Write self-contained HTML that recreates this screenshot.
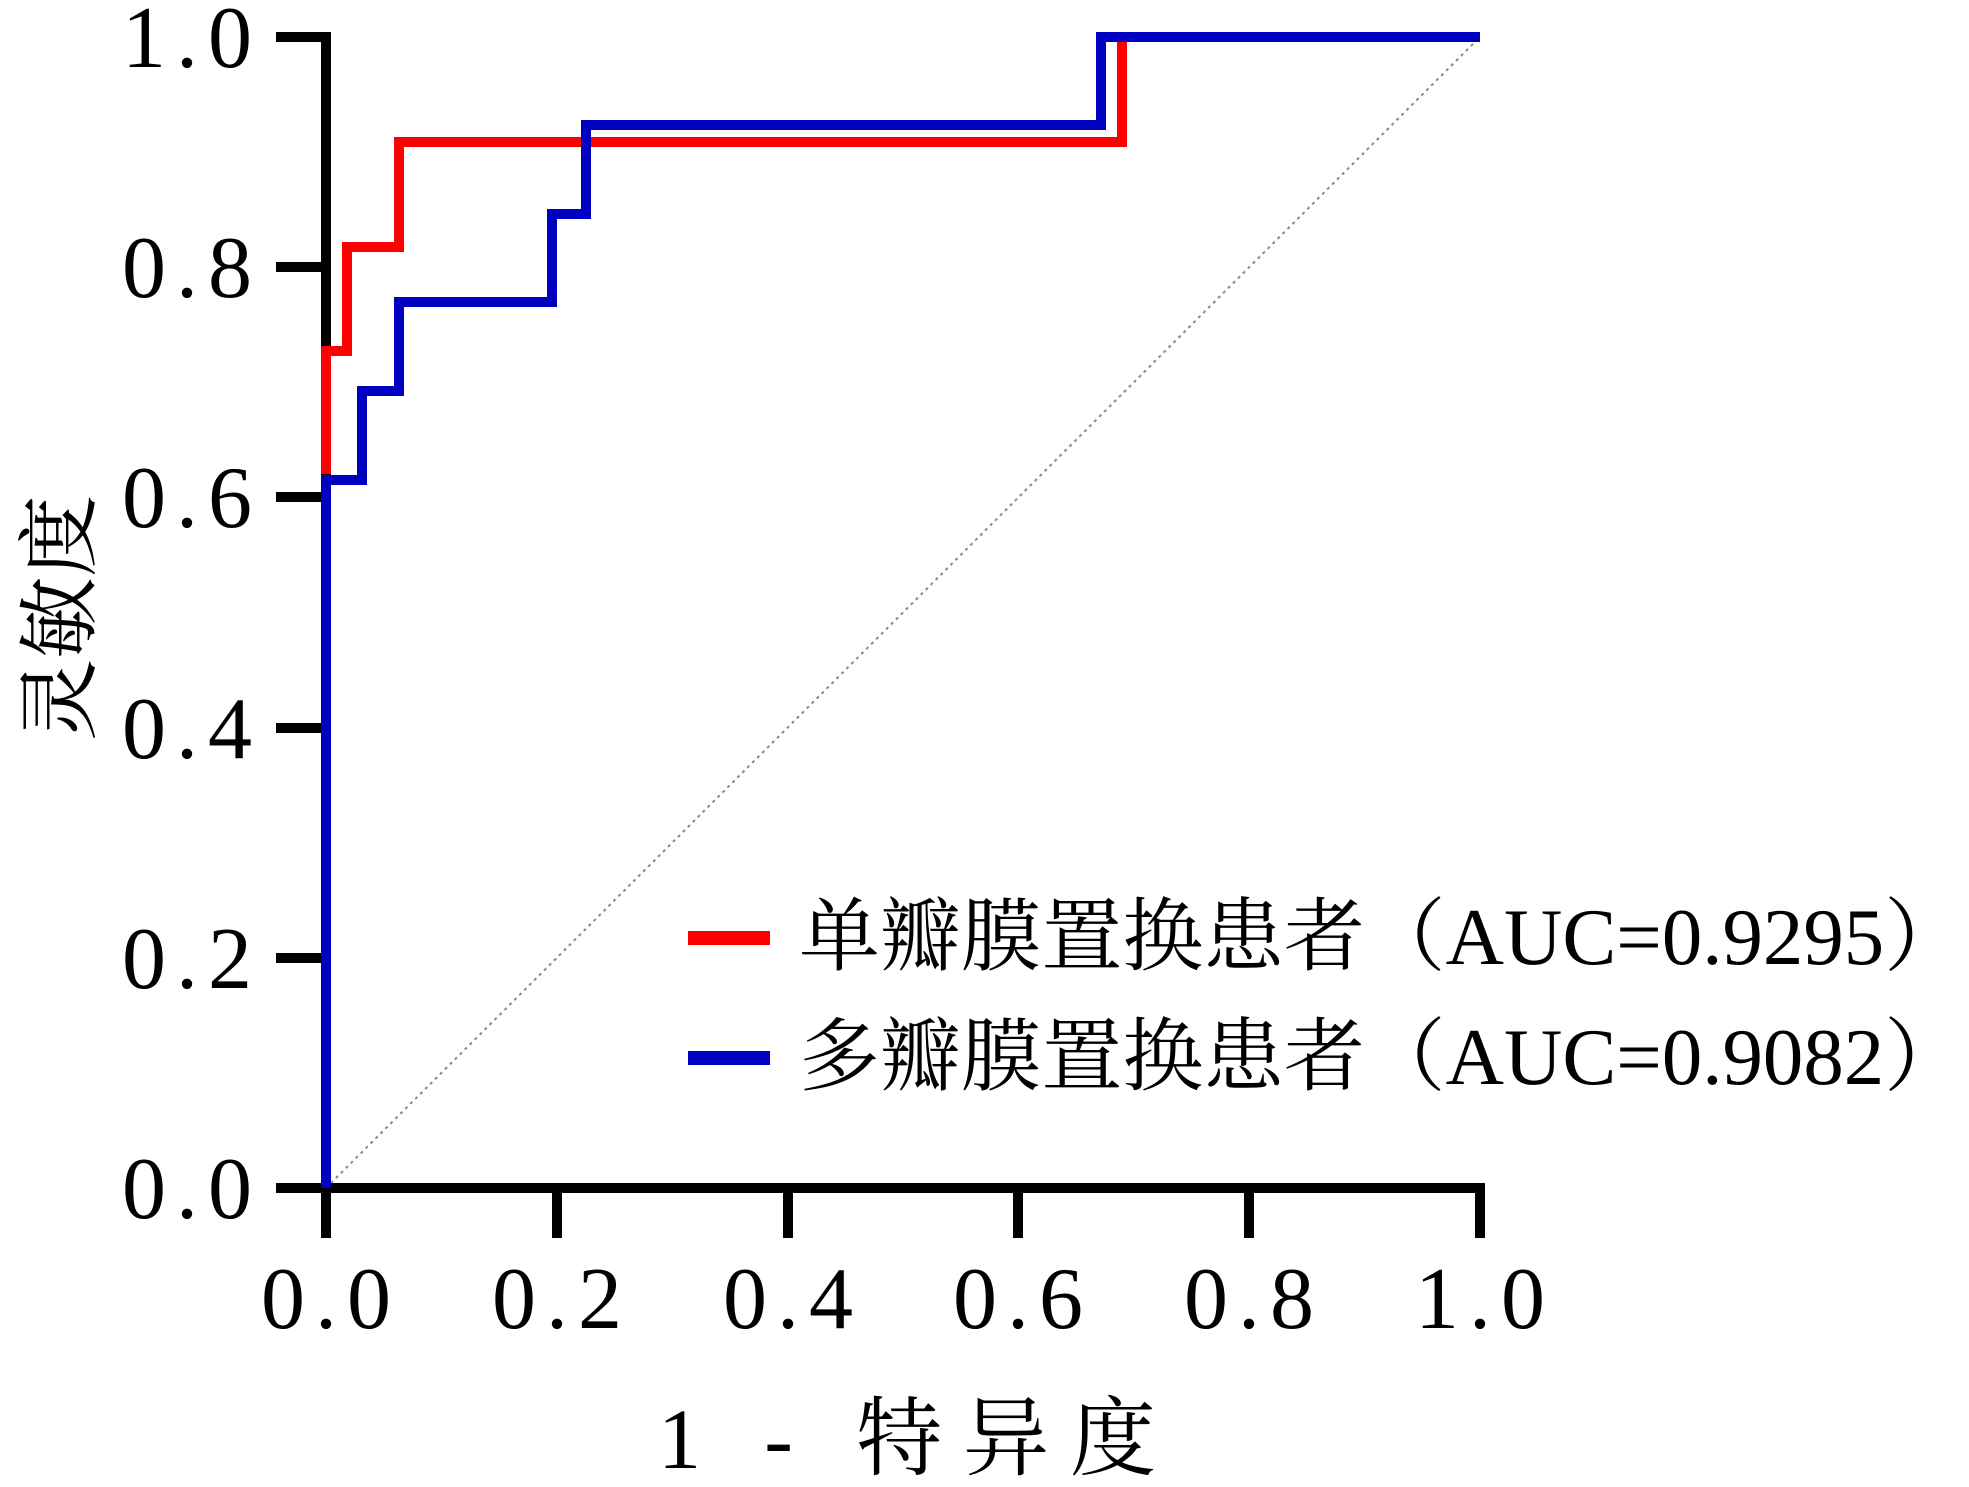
<!DOCTYPE html>
<html><head><meta charset="utf-8"><style>
html,body{margin:0;padding:0;background:#fff;}
svg{display:block;}
text{font-family:"Liberation Serif","Noto Serif CJK SC",serif;fill:#000;}
</style></head><body>
<svg width="1969" height="1487" viewBox="0 0 1969 1487" xmlns="http://www.w3.org/2000/svg">
<!-- diagonal -->
<line x1="326" y1="1188" x2="1480" y2="37" stroke="#888" stroke-width="2" stroke-dasharray="3,4"/>
<!-- axes -->
<g stroke="#000" stroke-width="10" fill="none">
<line x1="326" y1="32" x2="326" y2="1193"/>
<line x1="276" y1="1188" x2="1485" y2="1188"/>
<line x1="276" y1="37" x2="326" y2="37"/>
<line x1="276" y1="267" x2="326" y2="267"/>
<line x1="276" y1="497" x2="326" y2="497"/>
<line x1="276" y1="728" x2="326" y2="728"/>
<line x1="276" y1="958" x2="326" y2="958"/>
<line x1="326" y1="1188" x2="326" y2="1238"/>
<line x1="557" y1="1188" x2="557" y2="1238"/>
<line x1="788" y1="1188" x2="788" y2="1238"/>
<line x1="1018" y1="1188" x2="1018" y2="1238"/>
<line x1="1249" y1="1188" x2="1249" y2="1238"/>
<line x1="1480" y1="1188" x2="1480" y2="1238"/>
</g>
<!-- red curve -->
<polyline fill="none" stroke="#ff0000" stroke-width="10" stroke-linejoin="miter" points="326,474 326,351 347,351 347,247 399,247 399,142 1122,142 1122,37 1480,37"/>
<!-- blue curve -->
<polyline fill="none" stroke="#0000c0" stroke-width="10" stroke-linejoin="miter" points="326,1188 326,480 362,480 362,391 399,391 399,302 552,302 552,214 586,214 586,125 1101,125 1101,37 1480,37"/>
<!-- y tick labels -->
<g font-size="88" text-anchor="end" letter-spacing="10">
<text x="262" y="67">1.0</text>
<text x="262" y="297">0.8</text>
<text x="262" y="527">0.6</text>
<text x="262" y="758">0.4</text>
<text x="262" y="988">0.2</text>
<text x="262" y="1218">0.0</text>
</g>
<g font-size="88" text-anchor="middle" letter-spacing="10">
<text x="331" y="1328">0.0</text>
<text x="562" y="1328">0.2</text>
<text x="793" y="1328">0.4</text>
<text x="1023" y="1328">0.6</text>
<text x="1254" y="1328">0.8</text>
<text x="1485" y="1328">1.0</text>
</g>
<text x="658" y="1468" font-size="86" textLength="498">1 - 特异度</text>
<text transform="translate(88,618) rotate(-90)" font-size="82" text-anchor="middle">灵敏度</text>
<!-- legend -->
<line x1="688" y1="938" x2="770" y2="938" stroke="#ff0000" stroke-width="14"/>
<line x1="688" y1="1058" x2="770" y2="1058" stroke="#0000c0" stroke-width="14"/>
<text x="799" y="964" font-size="80" textLength="1166" lengthAdjust="spacingAndGlyphs">单瓣膜置换患者（AUC=0.9295）</text>
<text x="799" y="1084" font-size="80" textLength="1166" lengthAdjust="spacingAndGlyphs">多瓣膜置换患者（AUC=0.9082）</text>
</svg>
</body></html>
